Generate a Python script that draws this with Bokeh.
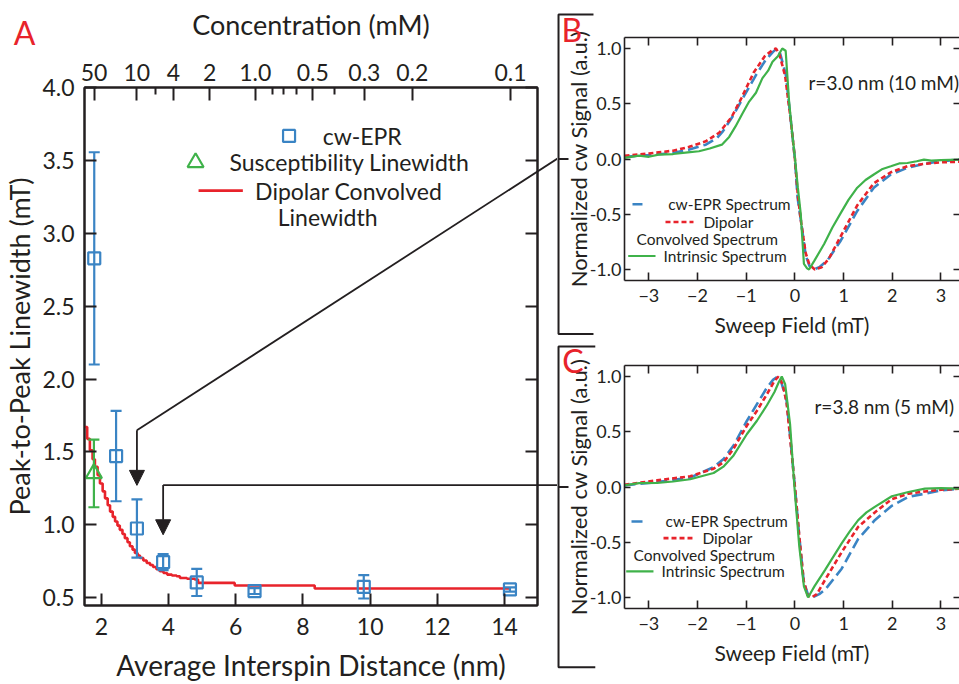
from bokeh.plotting import figure
from bokeh.layouts import row, column
from bokeh.models import (Range1d, LinearAxis, FixedTicker, Whisker, TeeHead, Arrow,
                          NormalHead, Label, ColumnDataSource, PrintfTickFormatter)
from bokeh.core.properties import value
from bokeh.embed import file_html
from bokeh.resources import INLINE

FONT = "Lato"
INK = "#231f20"
BLUE = "#3a84c4"
GREEN = "#3fb24a"
RED = "#e8232b"

# ---------------- Panel A: linewidth vs. interspin distance ----------------
cw_dist = [1.79, 2.44, 3.06, 3.84, 4.84, 6.56, 9.81, 14.16]
cw_width = [2.828, 1.472, 0.975, 0.745, 0.605, 0.546, 0.575, 0.557]
cw_err = [0.728, 0.310, 0.200, 0.055, 0.093, 0.020, 0.080, 0.015]

sus_dist = [1.78]
sus_width = [1.353]
sus_err = [0.232]

dip_dist = [1.50, 1.58, 1.66, 1.74, 1.81, 1.89, 1.96, 2.04, 2.11, 2.19, 2.26, 2.34,
            2.41, 2.48, 2.55, 2.63, 2.70, 2.78, 2.85, 2.93, 3.00, 3.08, 3.15, 3.25,
            3.35, 3.45, 3.54, 3.64, 3.74, 3.85, 3.96, 4.10, 4.24, 4.34, 4.55, 4.78,
            4.88, 5.97, 8.35, 14.15]
dip_width = [1.671, 1.590, 1.512, 1.450, 1.398, 1.340, 1.284, 1.230, 1.182, 1.135,
             1.091, 1.055, 1.023, 0.995, 0.966, 0.937, 0.909, 0.881, 0.853, 0.830,
             0.807, 0.790, 0.773, 0.756, 0.739, 0.725, 0.711, 0.696, 0.682, 0.670,
             0.659, 0.653, 0.648, 0.636, 0.630, 0.625, 0.602, 0.584, 0.564, 0.564]

dist_ticks = [2, 4, 6, 8, 10, 12, 14]
width_ticks = [0.5, 1.0, 1.5, 2.0, 2.5, 3.0, 3.5, 4.0]

conc_major = [50, 10, 4, 2, 1.0, 0.5, 0.3, 0.2, 0.1]
conc_labels = ["50", "10", "4", "2", "1.0", "0.5", "0.3", "0.2", "0.1"]
conc_minor = [6, 0.8, 0.7, 0.6, 0.4]
R_COEF = 6.58  # mean spacing r (nm) = R_COEF * c(mM)^(-1/3)

# ---------------- Panels B / C: cw spectra ----------------
b_epr_field = [-3.5, -3.0, -2.5, -2.17, -1.83, -1.6, -1.48, -1.28, -1.07, -0.80, -0.595,
               -0.45, -0.375, -0.30, -0.185, -0.09, 0.0, 0.055, 0.12, 0.22, 0.30, 0.39,
               0.50, 0.665, 0.94, 1.28, 1.62, 1.97, 2.31, 2.65, 3.0, 3.38]
b_epr_sig = [0.02, 0.035, 0.055, 0.085, 0.13, 0.19, 0.25, 0.385, 0.55, 0.76, 0.90,
             0.97, 1.0, 0.95, 0.76, 0.37, 0.0, -0.35, -0.55, -0.87, -0.97, -1.0,
             -0.98, -0.92, -0.74, -0.47, -0.26, -0.14, -0.08, -0.045, -0.02, -0.005]
b_dip_field = [-3.5, -3.0, -2.5, -2.17, -1.83, -1.55, -1.3, -1.1, -0.85, -0.62, -0.45,
               -0.39, -0.32, -0.2, -0.09, 0.0, 0.06, 0.12, 0.22, 0.3, 0.41, 0.55, 0.70,
               0.94, 1.28, 1.62, 1.97, 2.31, 2.65, 3.0, 3.38]
b_dip_sig = [0.03, 0.05, 0.075, 0.11, 0.16, 0.24, 0.38, 0.55, 0.78, 0.93, 0.99,
             1.0, 0.95, 0.75, 0.37, 0.0, -0.33, -0.55, -0.85, -0.96, -1.0, -0.98, -0.90,
             -0.70, -0.42, -0.22, -0.12, -0.065, -0.045, -0.03, -0.025]
b_int_field = [-3.5, -3.2, -3.0, -2.8, -2.5, -2.2, -1.97, -1.75, -1.5, -1.35, -1.22,
               -1.08, -0.94, -0.80, -0.67, -0.55, -0.46, -0.35, -0.26, -0.19, -0.12,
               -0.06, 0.0, 0.06, 0.12, 0.185, 0.25, 0.29, 0.40, 0.60, 0.77, 0.94,
               1.10, 1.28, 1.45, 1.62, 1.80, 1.97, 2.14, 2.31, 2.5, 2.65, 2.8, 3.0, 3.38]
b_int_sig = [0.01, 0.03, 0.02, 0.04, 0.045, 0.06, 0.07, 0.095, 0.13, 0.20, 0.295,
             0.41, 0.52, 0.60, 0.73, 0.80, 0.88, 0.93, 1.0, 0.98, 0.52,
             0.25, 0.01, -0.26, -0.50, -0.95, -0.99, -1.0, -0.92, -0.77, -0.62, -0.49,
             -0.37, -0.26, -0.19, -0.14, -0.09, -0.066, -0.04, -0.036, -0.02, -0.005,
             -0.015, -0.01, -0.005]

c_epr_field = [-3.5, -2.83, -2.15, -1.67, -1.46, -1.26, -0.985, -0.78, -0.575, -0.45,
               -0.355, -0.28, -0.17, -0.07, 0.0, 0.09, 0.18, 0.27, 0.36, 0.50, 0.62,
               0.96, 1.30, 1.64, 1.99, 2.33, 2.67, 3.0, 3.38]
c_epr_sig = [0.015, 0.045, 0.085, 0.18, 0.256, 0.376, 0.60, 0.75, 0.90, 0.97,
             1.0, 0.95, 0.78, 0.33, 0.0, -0.45, -0.85, -0.98, -1.0, -0.97, -0.93,
             -0.74, -0.47, -0.30, -0.17, -0.09, -0.06, -0.03, -0.015]
c_dip_field = [-3.5, -2.83, -2.15, -1.67, -1.46, -1.26, -0.985, -0.78, -0.575, -0.42,
               -0.34, -0.25, -0.17, -0.07, 0.0, 0.09, 0.18, 0.26, 0.34, 0.45, 0.62,
               0.96, 1.30, 1.64, 1.99, 2.33, 2.67, 3.0, 3.38]
c_dip_sig = [0.02, 0.06, 0.097, 0.166, 0.226, 0.347, 0.557, 0.69, 0.84, 0.96,
             1.0, 0.93, 0.76, 0.32, 0.0, -0.45, -0.85, -0.98, -1.0, -0.97, -0.84,
             -0.59, -0.36, -0.23, -0.11, -0.06, -0.04, -0.025, -0.015]
c_int_field = [-3.5, -3.2, -2.83, -2.5, -2.15, -1.67, -1.46, -1.26, -0.985, -0.78,
               -0.575, -0.42, -0.33, -0.27, -0.20, -0.10, -0.01, 0.09, 0.185, 0.27,
               0.40, 0.62, 0.79, 0.96, 1.13, 1.30, 1.47, 1.64, 1.99, 2.33, 2.67, 3.0, 3.38]
c_int_sig = [0.015, 0.035, 0.036, 0.05, 0.07, 0.127, 0.187, 0.286, 0.48, 0.60,
             0.74, 0.86, 0.95, 1.0, 0.93, 0.57, 0.0, -0.54, -0.90, -1.0,
             -0.90, -0.75, -0.63, -0.51, -0.40, -0.30, -0.23, -0.18, -0.084, -0.045,
             -0.015, -0.01, -0.015]

field_ticks = [-3, -2, -1, 0, 1, 2, 3]
signal_ticks = [-1.0, -0.5, 0.0, 0.5, 1.0]


def conc_to_r(c):
    return R_COEF * c ** (-1.0 / 3.0)


def style_axis(ax, tick_len, label_size, title_size, lw, label_standoff, title_standoff):
    ax.major_tick_in = tick_len
    ax.major_tick_out = 0
    ax.minor_tick_line_color = None
    ax.major_tick_line_width = lw
    ax.major_tick_line_color = INK
    ax.axis_line_width = lw
    ax.axis_line_color = INK
    ax.major_label_text_font = FONT
    ax.major_label_text_font_size = label_size
    ax.major_label_text_color = INK
    ax.major_label_standoff = label_standoff
    ax.axis_label_text_font = FONT
    ax.axis_label_text_font_size = title_size
    ax.axis_label_text_font_style = "normal"
    ax.axis_label_text_color = INK
    ax.axis_label_standoff = title_standoff


def mirror_axis(ticks, tick_len, lw, draw_line=True):
    # tick marks only, on the opposite side of the frame
    return LinearAxis(ticker=FixedTicker(ticks=ticks, minor_ticks=[]),
                      major_tick_in=tick_len, major_tick_out=0,
                      minor_tick_line_color=None,
                      major_tick_line_width=lw, major_tick_line_color=INK,
                      major_label_text_color=None, major_label_text_font_size="0px",
                      major_label_standoff=0,
                      axis_line_width=lw, axis_line_color=INK if draw_line else None)


def add_text(fig, x, y, text, size, color=INK, baseline="middle"):
    fig.add_layout(Label(x=x, y=y, text=text, text_font=FONT, text_font_size=size,
                         text_color=color, text_baseline=baseline, text_align="left"))


def outer_text(fig, x, y, text, size, color):
    # drawn at overlay level so it is not clipped to the frame
    fig.text(x=[x], y=[y], text=[text], text_font=value(FONT), text_font_size=value(size),
             text_color=color, text_baseline="alphabetic", text_align="left", level="overlay")


def outer_path(fig, xs, ys, lw=2.0):
    fig.line(x=xs, y=ys, line_color=INK, line_width=lw, level="overlay")


# ======================= Panel A =======================
pa = figure(width=557, height=684, x_range=Range1d(1.5, 14.98), y_range=Range1d(0.447, 4.0),
            output_backend="svg", toolbar_location=None,
            min_border_left=83, min_border_right=20, min_border_top=87, min_border_bottom=76)
pa.grid.visible = False
pa.outline_line_color = INK
pa.outline_line_width = 2

xa = pa.xaxis[0]
xa.ticker = FixedTicker(ticks=dist_ticks, minor_ticks=[])
xa.axis_label = "Average Interspin Distance (nm)"
style_axis(xa, 12, "23px", "28px", 2, 12, 10)

ya = pa.yaxis[0]
ya.ticker = FixedTicker(ticks=width_ticks, minor_ticks=[])
ya.formatter = PrintfTickFormatter(format="%.1f")
ya.axis_label = "Peak-to-Peak Linewidth (mT)"
style_axis(ya, 12, "23px", "27px", 2, 10, 3)

conc_pos = [conc_to_r(c) for c in conc_major]
top = LinearAxis(ticker=FixedTicker(ticks=conc_pos, minor_ticks=[conc_to_r(c) for c in conc_minor]),
                 major_label_overrides={p: lab for p, lab in zip(conc_pos, conc_labels)},
                 axis_label="Concentration (mM)")
style_axis(top, 13, "23px", "27px", 2, 7, 20)
top.minor_tick_in = 7
top.minor_tick_out = 0
top.minor_tick_line_color = INK
top.minor_tick_line_width = 2
pa.add_layout(top, "above")
pa.add_layout(mirror_axis(width_ticks, 12, 2), "right")

# dipolar convolved linewidth (stepped)
pa.step(x=dip_dist, y=dip_width, mode="after", line_color=RED, line_width=2.6)

# error bars
cw_src = ColumnDataSource(dict(x=cw_dist, y=cw_width,
                               lo=[v - e for v, e in zip(cw_width, cw_err)],
                               hi=[v + e for v, e in zip(cw_width, cw_err)]))
sus_src = ColumnDataSource(dict(x=sus_dist, y=sus_width,
                                lo=[v - e for v, e in zip(sus_width, sus_err)],
                                hi=[v + e for v, e in zip(sus_width, sus_err)]))
for src, col in ((cw_src, BLUE), (sus_src, GREEN)):
    pa.add_layout(Whisker(source=src, base="x", lower="lo", upper="hi", dimension="height",
                          line_color=col, line_width=2.2,
                          lower_head=TeeHead(size=11, line_color=col, line_width=2.2),
                          upper_head=TeeHead(size=11, line_color=col, line_width=2.2),
                          level="glyph"))

pa.scatter(x="x", y="y", source=cw_src, marker="square", size=12, fill_color=None,
           line_color=BLUE, line_width=2.2)
pa.scatter(x="x", y="y", source=sus_src, marker="triangle", size=16, fill_color=None,
           line_color=GREEN, line_width=2.2)

# legend
pa.scatter(x=[7.587], y=[3.668], marker="square", size=12, fill_color=None,
           line_color=BLUE, line_width=2.2)
add_text(pa, 8.587, 3.668, "cw-EPR", "23px")
pa.scatter(x=[4.805], y=[3.486], marker="triangle", size=16, fill_color=None,
           line_color=GREEN, line_width=2.2)
add_text(pa, 5.814, 3.486, "Susceptibility Linewidth", "23px")
pa.line(x=[4.894, 6.212], y=[3.293, 3.293], line_color=RED, line_width=2.6)
add_text(pa, 6.577, 3.293, "Dipolar Convolved", "23px")
add_text(pa, 7.251, 3.115, "Linewidth", "23px")

outer_text(pa, -0.608, 4.375, "A", "32px", RED)

# pointers from the 10 mM and 5 mM points to the spectra panels
x10, x5 = cw_dist[2], cw_dist[3]
outer_path(pa, [x10, 15.60], [1.649, 3.516], lw=1.8)
pa.add_layout(Arrow(x_start=x10, y_start=1.649, x_end=x10, y_end=1.271, line_color=INK,
                    line_width=1.8, end=NormalHead(size=15, fill_color=INK, line_color=INK)))
outer_path(pa, [x5, 15.60], [1.273, 1.273], lw=1.8)
pa.add_layout(Arrow(x_start=x5, y_start=1.273, x_end=x5, y_end=0.932, line_color=INK,
                    line_width=1.8, end=NormalHead(size=15, fill_color=INK, line_color=INK)))


# ======================= Panels B / C =======================
def spectrum_panel(top_border, bottom_border, epr, dip, intr, note, note_xy, letter, letter_xy,
                   legend_pos, bracket):
    p = figure(width=402, height=342, x_range=Range1d(-3.5, 3.38), y_range=Range1d(-1.1, 1.1),
               output_backend="svg", toolbar_location=None,
               min_border_left=67, min_border_right=0,
               min_border_top=top_border, min_border_bottom=bottom_border)
    p.grid.visible = False
    p.outline_line_color = None

    xb = p.xaxis[0]
    xb.ticker = FixedTicker(ticks=field_ticks, minor_ticks=[])
    xb.axis_label = "Sweep Field (mT)"
    style_axis(xb, 8, "18px", "21px", 1.6, 8, 7)
    yb = p.yaxis[0]
    yb.ticker = FixedTicker(ticks=signal_ticks, minor_ticks=[])
    yb.formatter = PrintfTickFormatter(format="%.1f")
    yb.axis_label = "Normalized cw Signal (a.u.)"
    style_axis(yb, 6, "18px", "22px", 1.6, 3, -5)
    p.add_layout(mirror_axis(field_ticks, 8, 1.6), "above")
    p.add_layout(mirror_axis(signal_ticks, 6, 1.6, draw_line=False), "right")

    p.line(x=epr[0], y=epr[1], line_color=BLUE, line_width=2.6, line_dash="11 5")
    p.line(x=dip[0], y=dip[1], line_color=RED, line_width=2.6, line_dash="5 3")
    p.line(x=intr[0], y=intr[1], line_color=GREEN, line_width=2.2)

    (bx0, bx1, by), (cx, ), (rx0, rx1, ry), (vx, vy), (gx0, gx1, gy), (ix, ) = legend_pos
    p.line(x=[bx0, bx1], y=[by, by], line_color=BLUE, line_width=2.6, line_dash="11 5")
    add_text(p, cx, by, "cw-EPR Spectrum", "15.5px")
    p.line(x=[rx0, rx1], y=[ry, ry], line_color=RED, line_width=2.6, line_dash="5 3")
    add_text(p, rx1 + 0.205, ry, "Dipolar", "15.5px")
    add_text(p, vx, vy, "Convolved Spectrum", "15.5px")
    p.line(x=[gx0, gx1], y=[gy, gy], line_color=GREEN, line_width=2.2)
    add_text(p, ix, gy, "Intrinsic Spectrum", "15.5px")

    add_text(p, note_xy[0], note_xy[1], note, "19px")
    outer_text(p, letter_xy[0], letter_xy[1], letter, "32px", RED)

    bl, stub, ytop, ybot, tick_end = bracket
    outer_path(p, [stub, bl, bl, stub], [ytop, ytop, ybot, ybot], lw=2)
    outer_path(p, [bl, tick_end], [0.0, 0.0], lw=2)
    return p


pb = spectrum_panel(37, 62, (b_epr_field, b_epr_sig), (b_dip_field, b_dip_sig),
                    (b_int_field, b_int_sig), "r=3.0 nm (10 mM)", (0.278, 0.694),
                    "B", (-4.794, 1.175),
                    ((-3.336, -3.131, -0.409), (-2.603, ), (-2.658, -2.083, -0.570),
                     (-3.254, -0.721), (-3.424, -2.863, -0.878), (-2.699, )),
                    (-4.855, -4.137, 1.309, -1.585, -4.65))
pc = spectrum_panel(23, 76, (c_epr_field, c_epr_sig), (c_dip_field, c_dip_sig),
                    (c_int_field, c_int_sig), "r=3.8 nm (5 mM)", (0.401, 0.732),
                    "C", (-4.779, 1.143),
                    ((-3.356, -3.104, -0.312), (-2.658, ), (-2.699, -2.104, -0.463),
                     (-3.315, -0.613), (-3.465, -2.905, -0.764), (-2.740, )),
                    (-4.855, -4.10, 1.272, -1.631, -4.65))

layout = row(pa, column(pb, pc))
open("out.html", "w").write(file_html(layout, INLINE))
